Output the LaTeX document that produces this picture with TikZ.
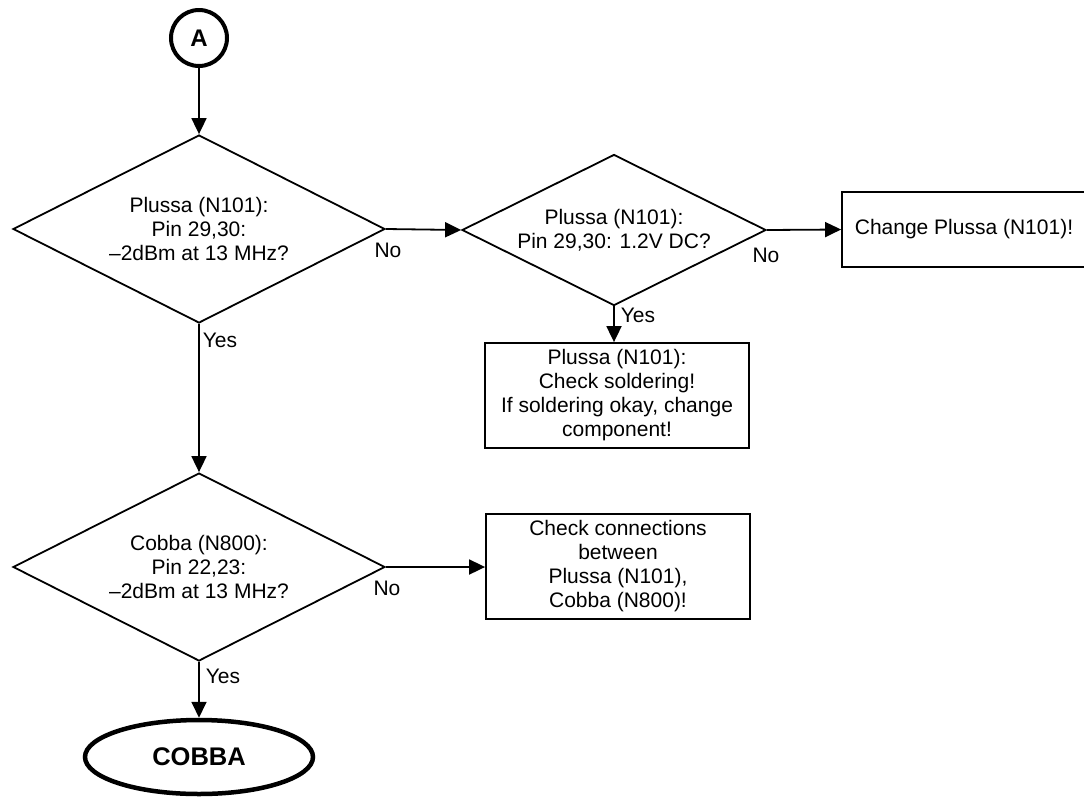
\documentclass[tikz,border=0pt]{standalone}
\usepackage{fontspec}
\setmainfont{Liberation Sans}
\usetikzlibrary{shapes.geometric,arrows.meta}
\begin{document}
\begin{tikzpicture}[x=1pt,y=-1pt,
  every node/.style={font=\fontsize{21}{24}\selectfont},
  decision/.style={draw,line width=1.8pt,diamond,aspect=2,inner sep=0pt,align=center},
  action/.style={draw,line width=1.8pt,rectangle,inner sep=0pt,align=center},
  connector/.style={draw,line width=4pt,circle,inner sep=0pt,minimum size=56pt,
    font=\bfseries\fontsize{24}{28}\selectfont},
  terminal/.style={draw,line width=4.5pt,ellipse,inner sep=0pt,
    font=\bfseries\fontsize{25.5}{30}\selectfont},
  flow/.style={line width=1.8pt,-{Triangle[length=16pt,width=15pt]}},
  lbl/.style={inner sep=0pt}]
\clip (0,0) rectangle (1084,796);

% start connector
\node[connector] (A) at (199,38) {A};

% first check
\node[decision,minimum width=372pt,minimum height=188pt] (d1) at (199,229)
  {Plussa (N101):\\Pin 29,30:\\–2dBm at 13 MHz?};

% supply check
\node[decision,minimum width=304pt,minimum height=151pt] (d2) at (614,230)
  {Plussa (N101):\\Pin 29,30: 1.2V DC?};

\node[action,minimum width=244pt,minimum height=75pt] (b1) at (964,229.5)
  {Change Plussa (N101)!};

\node[action,minimum width=264pt,minimum height=105pt] (b2) at (617,395.5)
  {Plussa (N101):\\Check soldering!\\If soldering okay, change\\component!};

% second check
\node[decision,minimum width=372pt,minimum height=188pt] (d3) at (199,567)
  {Cobba (N800):\\Pin 22,23:\\–2dBm at 13 MHz?};

\node[action,minimum width=264pt,minimum height=105pt] (b3) at (618,566.5)
  {Check connections\\between\\Plussa (N101),\\Cobba (N800)!};

% end terminal
\node[terminal,minimum width=228pt,minimum height=74pt] (end) at (199,757) {COBBA};

% connectors
\draw[flow] (A.south) -- (d1.north);
\draw[flow] (d1.east) -- (d2.west);
\draw[flow] (d2.east) -- (b1.west);
\draw[flow] (d2.south) -- (d2.south |- b2.north);
\draw[flow] (d1.south) -- (d3.north);
\draw[flow] (d3.east) -- (d3.east -| b3.west);
\draw[flow] (d3.south) -- (end.north);

% branch labels
\node[lbl] (no1) at (388,250) {No};
\node[lbl] (yes1) at (220,340) {Yes};
\node[lbl] (no2) at (766,255) {No};
\node[lbl] (yes2) at (638,315) {Yes};
\node[lbl] (no3) at (387,588) {No};
\node[lbl] (yes3) at (223,676) {Yes};
\end{tikzpicture}
\end{document}
